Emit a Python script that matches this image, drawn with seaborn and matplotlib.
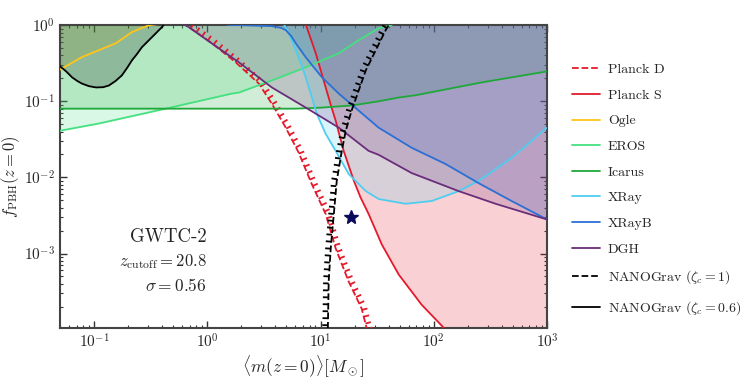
import matplotlib
matplotlib.use("Agg")
import matplotlib.pyplot as plt
import matplotlib.patheffects as pe
from matplotlib.lines import Line2D
import seaborn as sns

# constraint curves: mass <m> [Msun] and f_PBH
planckD_m = [0.6, 0.65, 1.1, 1.78, 2.85, 3.71, 4.93, 6.42, 8.36, 11.1, 13.6, 17.7, 23.1, 25.6, 27.0]
planckD_f = [1.1, 1.0, 0.578, 0.325, 0.171, 0.093, 0.045, 0.021, 0.0082, 0.0033, 0.00117, 0.00043, 0.000188, 0.000103, 0.00009]

planckS_m = [7.3, 7.55, 8.2, 9.07, 10.0, 11.1, 12.3, 13.6, 16.0, 19.7, 22.5, 26.6, 34.7, 49.0, 78.0, 127.0, 200.0, 1000.0]
planckS_f = [1.05, 0.94, 0.66, 0.427, 0.26, 0.152, 0.09, 0.0556, 0.0223, 0.009, 0.0055, 0.0033, 0.00132, 0.00053, 0.000213, 0.0001, 0.00004, 0.000001]

ogle_m = [0.05, 0.078, 0.156, 0.216, 0.264, 0.31, 0.4]
ogle_f = [0.26, 0.38, 0.58, 0.81, 0.92, 1.0, 1.05]

eros_m = [0.05, 0.11, 0.43, 1.64, 1.9, 3.71, 7.4, 14.5, 21.7, 32.6, 40.0, 45.0]
eros_f = [0.041, 0.051, 0.080, 0.126, 0.130, 0.188, 0.279, 0.427, 0.634, 0.91, 0.97, 1.05]

icarus_m = [0.05, 2.0, 6.0, 10.3, 18.8, 32.6, 49.0, 69.0, 265.0, 1000.0]
icarus_f = [0.08, 0.08, 0.08, 0.0826, 0.088, 0.1, 0.112, 0.12, 0.177, 0.247]

xray_m = [4.6, 4.93, 5.2, 5.57, 6.1, 6.69, 7.3, 7.87, 8.5, 9.25, 11.1, 13.6, 17.7, 25.1, 32.6, 56.5, 95.9, 166.0, 249.0, 486.0, 1000.0]
xray_f = [1.1, 0.94, 0.8, 0.634, 0.45, 0.315, 0.22, 0.152, 0.105, 0.0688, 0.0374, 0.0223, 0.0111, 0.0066, 0.0052, 0.0045, 0.0049, 0.0066, 0.009, 0.018, 0.045]

xrayB_m = [1.5, 1.9, 3.71, 4.5, 4.93, 5.5, 6.04, 7.4, 10.3, 14.5, 21.7, 32.6, 63.8, 127.0, 249.0, 486.0, 1000.0]
xrayB_f = [1.01, 1.0, 0.97, 0.92, 0.86, 0.72, 0.578, 0.378, 0.206, 0.126, 0.0754, 0.045, 0.0245, 0.015, 0.0084, 0.0049, 0.0028]

dgh_m = [0.6, 0.687, 1.26, 1.9, 3.71, 7.4, 14.5, 26.6, 32.6, 63.8, 166.0, 352.0, 1000.0]
dgh_f = [1.05, 0.94, 0.497, 0.325, 0.152, 0.0826, 0.045, 0.0223, 0.0198, 0.0114, 0.0066, 0.0045, 0.0028]

nano1_m = [11.6, 11.8, 12.3, 13.1, 13.9, 15.4, 16.7, 18.8, 21.7, 25.1, 30.7, 37.6, 40.0]
nano1_f = [0.000103, 0.00043, 0.00117, 0.0033, 0.009, 0.0223, 0.041, 0.0754, 0.138, 0.255, 0.467, 0.86, 1.0]

nano06_m = [0.049, 0.057, 0.064, 0.071, 0.078, 0.09, 0.104, 0.12, 0.135, 0.155, 0.176, 0.196, 0.216, 0.24, 0.264, 0.324, 0.397, 0.42]
nano06_f = [0.296, 0.245, 0.206, 0.185, 0.171, 0.158, 0.152, 0.153, 0.161, 0.185, 0.219, 0.275, 0.345, 0.42, 0.512, 0.694, 0.94, 1.05]

gwtc_m, gwtc_f = [18.5], [0.0030]

c_planck = "#e31a2c"
c_ogle = "#ffc51a"
c_eros = "#45e07f"
c_icarus = "#1fa83a"
c_xray = "#4fcdf0"
c_xrayB = "#2a6fd4"
c_dgh = "#6a2d7a"

sns.set_style("ticks")
plt.rcParams["font.family"] = "serif"
plt.rcParams["font.serif"] = ["cmr10"]
plt.rcParams["mathtext.fontset"] = "cm"
plt.rcParams["axes.formatter.use_mathtext"] = True

fig = plt.figure(figsize=(7.47, 3.81), dpi=100)
ax = fig.add_axes([0.0803, 0.139, 0.652, 0.795])

def shade(m, f, c, a=0.2):
    ax.fill_between(m, f, 1.0, color=c, alpha=a, lw=0, zorder=1)

shade(planckS_m, planckS_f, c_planck)
shade(ogle_m, ogle_f, c_ogle)
shade(eros_m, eros_f, c_eros)
shade(icarus_m, icarus_f, c_icarus)
shade(xray_m, xray_f, c_xray)
shade(xrayB_m, xrayB_f, c_xrayB)
shade(dgh_m, dgh_f, c_dgh)
shade(nano06_m, nano06_f, "k", 0.2)

lw = 1.3
tick_fx = [pe.withTickedStroke(angle=90, spacing=5, length=0.8)]
sns.lineplot(x=planckD_m, y=planckD_f, ax=ax, color=c_planck, lw=lw, ls="--",
             sort=False, estimator=None, path_effects=tick_fx, zorder=3)
sns.lineplot(x=planckS_m, y=planckS_f, ax=ax, color=c_planck, lw=lw, sort=False, estimator=None, zorder=3)
sns.lineplot(x=ogle_m, y=ogle_f, ax=ax, color=c_ogle, lw=lw, sort=False, estimator=None, zorder=3)
sns.lineplot(x=eros_m, y=eros_f, ax=ax, color=c_eros, lw=lw, sort=False, estimator=None, zorder=3)
sns.lineplot(x=icarus_m, y=icarus_f, ax=ax, color=c_icarus, lw=lw, sort=False, estimator=None, zorder=3)
sns.lineplot(x=xray_m, y=xray_f, ax=ax, color=c_xray, lw=lw, sort=False, estimator=None, zorder=3)
sns.lineplot(x=xrayB_m, y=xrayB_f, ax=ax, color=c_xrayB, lw=lw, sort=False, estimator=None, zorder=3)
sns.lineplot(x=dgh_m, y=dgh_f, ax=ax, color=c_dgh, lw=lw, sort=False, estimator=None, zorder=3)
sns.lineplot(x=nano1_m, y=nano1_f, ax=ax, color="k", lw=lw, ls="--",
             sort=False, estimator=None, path_effects=tick_fx, zorder=3)
sns.lineplot(x=nano06_m, y=nano06_f, ax=ax, color="k", lw=lw, sort=False, estimator=None, zorder=3)

ax.plot(gwtc_m, gwtc_f, marker="*", color="#0a0a5a", ms=10, ls="none", zorder=4)

ax.set_xscale("log")
ax.set_yscale("log")
ax.set_xlim(0.05, 1000)
ax.set_ylim(1.05e-4, 1)

ax.text(0.302, 0.300, "GWTC-2", transform=ax.transAxes, ha="right", va="center", fontsize=13.5)
ax.text(0.302, 0.218, r"$z_{\rm cutoff} = 20.8$", transform=ax.transAxes, ha="right", va="center", fontsize=12)
ax.text(0.302, 0.142, r"$\sigma = 0.56$", transform=ax.transAxes, ha="right", va="center", fontsize=12.5)

ax.set_xlabel(r"$\langle m(z=0)\rangle [M_\odot]$", fontsize=12.5, labelpad=2)
ax.set_ylabel(r"$f_{\rm PBH}(z=0)$", fontsize=12)
ax.yaxis.set_label_coords(-0.078, 0.5)
ax.tick_params(which="both", direction="in", top=True, right=True, labelsize=11, color="#333333")
ax.tick_params(which="major", length=5, width=1)
ax.tick_params(which="minor", length=2.5, width=0.8)
for s in ax.spines.values():
    s.set_linewidth(1.5)
    s.set_color("#444444")

handles = [
    Line2D([], [], color=c_planck, lw=lw, ls="--", label="Planck D"),
    Line2D([], [], color=c_planck, lw=lw, label="Planck S"),
    Line2D([], [], color=c_ogle, lw=lw, label="Ogle"),
    Line2D([], [], color=c_eros, lw=lw, label="EROS"),
    Line2D([], [], color=c_icarus, lw=lw, label="Icarus"),
    Line2D([], [], color=c_xray, lw=lw, label="XRay"),
    Line2D([], [], color=c_xrayB, lw=lw, label="XRayB"),
    Line2D([], [], color=c_dgh, lw=lw, label="DGH"),
    Line2D([], [], color="k", lw=lw, ls="--", label=r"NANOGrav ($\zeta_c = 1$)"),
    Line2D([], [], color="k", lw=lw, label=r"NANOGrav ($\zeta_c = 0.6$)"),
]
ax.legend(handles=handles, loc="center left", bbox_to_anchor=(1.051, 0.455), frameon=False,
          fontsize=10, labelspacing=0.93, handlelength=2.0, handletextpad=0.6,
          borderaxespad=0, borderpad=0)

fig.savefig("out.png", dpi=100)
